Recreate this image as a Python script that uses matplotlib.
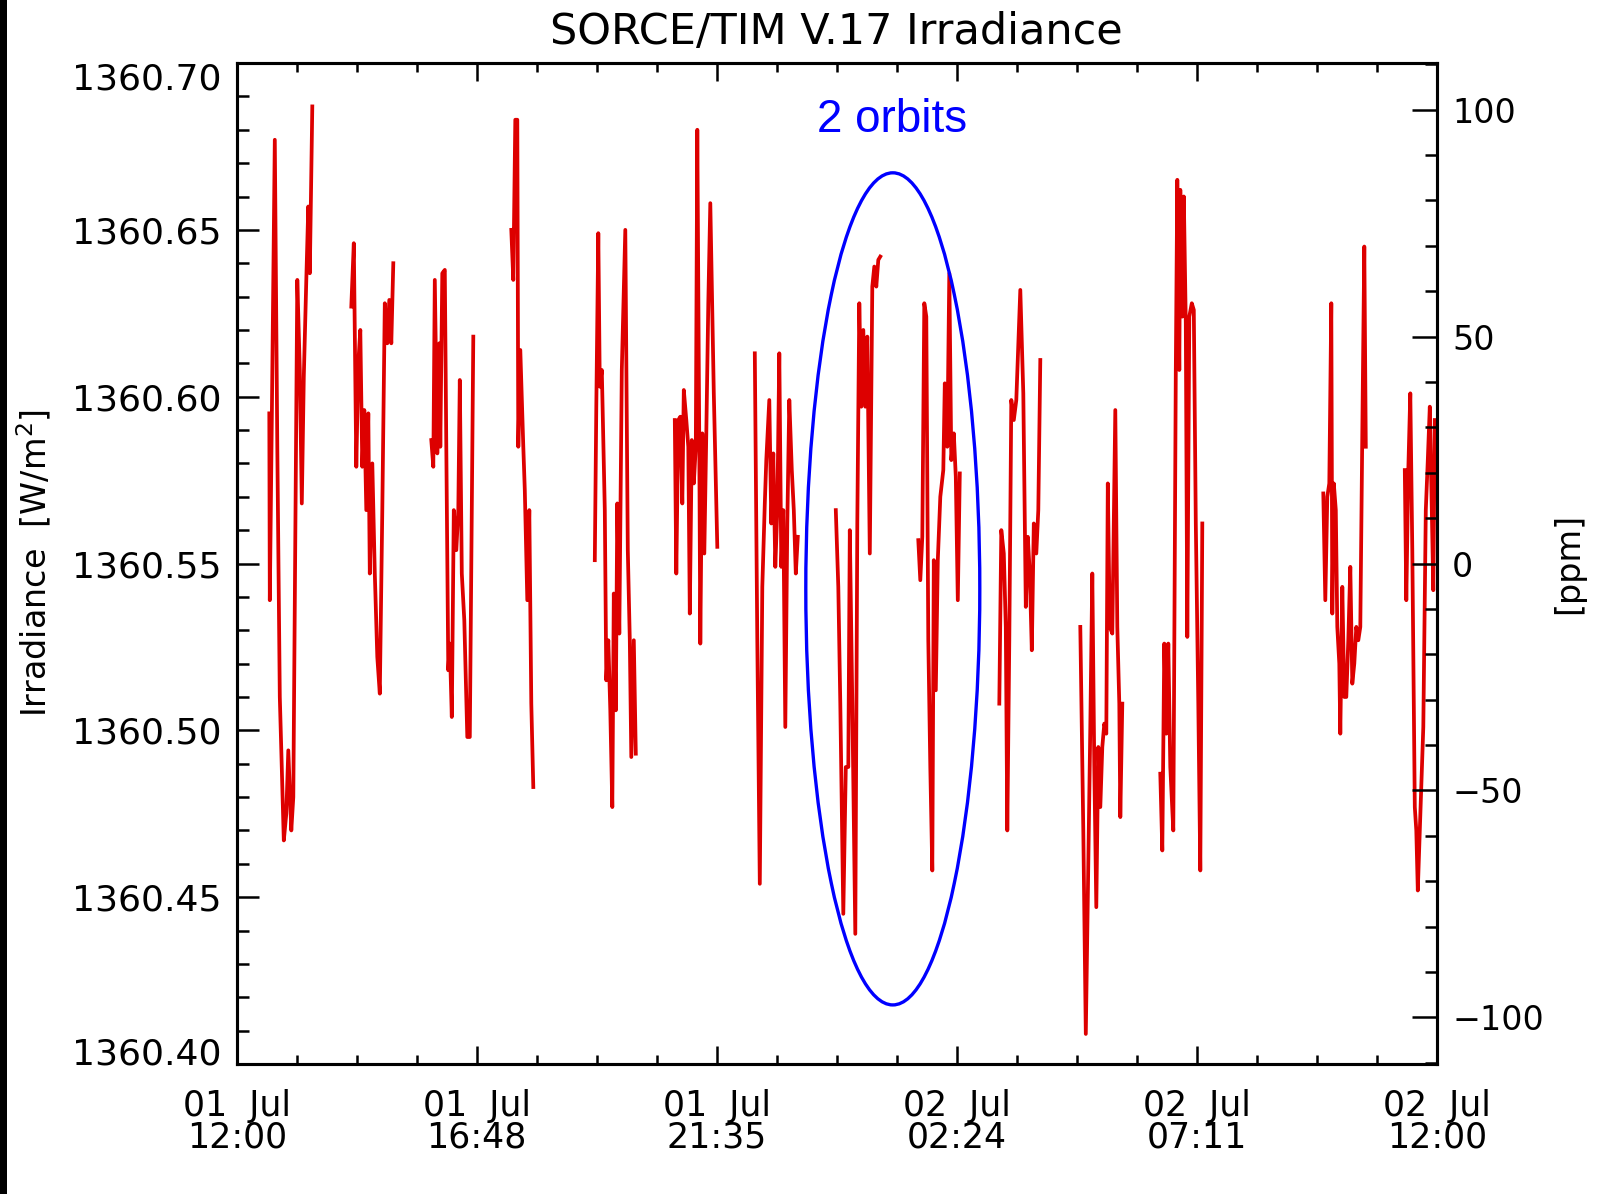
import numpy as np
import matplotlib
matplotlib.use('Agg')
import matplotlib.pyplot as plt
import matplotlib.transforms as mtransforms
from matplotlib.patches import Ellipse, Rectangle
from matplotlib.ticker import MultipleLocator

# hours after 01 Jul 12:00, one list per orbit of TIM data
orbit_hours = [
  [0.65, 0.66, 0.70, 0.76, 0.81, 0.86, 0.89, 0.94, 0.99, 1.03, 1.09, 1.13, 1.21, 1.26, 1.30, 1.34, 1.39, 1.43, 1.46, 1.51],
  [2.29, 2.34, 2.39, 2.43, 2.47, 2.51, 2.55, 2.59, 2.63, 2.66, 2.71, 2.76, 2.81, 2.86, 2.91, 2.96, 3.01, 3.05, 3.09, 3.13],
  [3.89, 3.93, 3.96, 4.01, 4.05, 4.07, 4.11, 4.16, 4.19, 4.23, 4.26, 4.30, 4.34, 4.39, 4.43, 4.46, 4.50, 4.55, 4.61, 4.66, 4.73],
  [5.49, 5.53, 5.57, 5.61, 5.63, 5.67, 5.73, 5.76, 5.81, 5.85, 5.89, 5.93],
  [7.16, 7.19, 7.23, 7.26, 7.30, 7.36, 7.39, 7.43, 7.47, 7.51, 7.54, 7.58, 7.61, 7.65, 7.70, 7.77, 7.82, 7.86, 7.89, 7.94, 7.98],
  [8.76, 8.79, 8.83, 8.87, 8.91, 8.94, 8.99, 9.03, 9.06, 9.10, 9.14, 9.18, 9.21, 9.25, 9.27, 9.31, 9.35, 9.39, 9.43, 9.47, 9.54, 9.61],
  [10.36, 10.41, 10.46, 10.51, 10.56, 10.59, 10.65, 10.69, 10.73, 10.77, 10.81, 10.85, 10.89, 10.93, 10.97, 11.01, 11.05, 11.10, 11.14, 11.18, 11.22],
  [11.98, 12.03, 12.07, 12.13, 12.18, 12.23, 12.26, 12.31, 12.37, 12.41, 12.45, 12.49, 12.53, 12.57, 12.61, 12.66, 12.71, 12.75, 12.79, 12.83, 12.87],
  [13.63, 13.67, 13.71, 13.75, 13.79, 13.83, 13.87, 13.91, 13.94, 13.98, 14.02, 14.07, 14.13, 14.16, 14.21, 14.25, 14.29, 14.34, 14.38, 14.42, 14.46],
  [15.25, 15.29, 15.34, 15.38, 15.41, 15.45, 15.49, 15.54, 15.59, 15.67, 15.73, 15.78, 15.82, 15.86, 15.90, 15.94, 15.99, 16.03, 16.07],
  [16.87, 16.93, 16.98, 17.03, 17.07, 17.11, 17.15, 17.19, 17.23, 17.27, 17.31, 17.35, 17.39, 17.42, 17.46, 17.51, 17.57, 17.61, 17.65, 17.67, 17.71],
  [18.47, 18.51, 18.55, 18.59, 18.63, 18.67, 18.73, 18.78, 18.81, 18.85, 18.87, 18.91, 18.94, 18.98, 19.01, 19.05, 19.10, 19.14, 19.18, 19.23, 19.27, 19.31],
  [21.73, 21.77, 21.81, 21.85, 21.89, 21.91, 21.94, 21.98, 22.01, 22.05, 22.07, 22.11, 22.15, 22.19, 22.23, 22.27, 22.31, 22.35, 22.39, 22.43, 22.47, 22.51, 22.55, 22.58],
  [23.36, 23.39, 23.43, 23.47, 23.51, 23.56, 23.59, 23.62, 23.66, 23.73, 23.78, 23.82, 23.86, 23.90, 23.93, 23.96],
]

# irradiance [W/m^2], same shape as orbit_hours
orbit_irradiance = [
  [1360.595, 1360.539, 1360.593, 1360.677, 1360.585, 1360.510, 1360.494, 1360.467, 1360.475, 1360.494, 1360.470, 1360.480, 1360.635, 1360.608, 1360.568, 1360.606, 1360.635, 1360.657, 1360.637, 1360.687],
  [1360.627, 1360.646, 1360.579, 1360.610, 1360.620, 1360.579, 1360.596, 1360.566, 1360.595, 1360.547, 1360.580, 1360.547, 1360.522, 1360.511, 1360.566, 1360.628, 1360.616, 1360.629, 1360.616, 1360.640],
  [1360.587, 1360.579, 1360.635, 1360.583, 1360.616, 1360.585, 1360.637, 1360.638, 1360.585, 1360.518, 1360.526, 1360.504, 1360.566, 1360.554, 1360.566, 1360.605, 1360.547, 1360.533, 1360.498, 1360.498, 1360.618],
  [1360.650, 1360.635, 1360.683, 1360.683, 1360.585, 1360.614, 1360.585, 1360.572, 1360.539, 1360.566, 1360.508, 1360.483],
  [1360.551, 1360.597, 1360.649, 1360.603, 1360.608, 1360.566, 1360.515, 1360.527, 1360.506, 1360.477, 1360.541, 1360.506, 1360.568, 1360.529, 1360.608, 1360.650, 1360.554, 1360.527, 1360.492, 1360.527, 1360.493],
  [1360.593, 1360.547, 1360.593, 1360.594, 1360.568, 1360.602, 1360.593, 1360.585, 1360.535, 1360.587, 1360.574, 1360.585, 1360.680, 1360.585, 1360.526, 1360.589, 1360.553, 1360.589, 1360.628, 1360.658, 1360.601, 1360.555],
  [1360.613, 1360.527, 1360.454, 1360.543, 1360.568, 1360.581, 1360.599, 1360.562, 1360.583, 1360.549, 1360.566, 1360.613, 1360.549, 1360.566, 1360.501, 1360.562, 1360.599, 1360.578, 1360.566, 1360.547, 1360.558],
  [1360.566, 1360.543, 1360.508, 1360.445, 1360.489, 1360.489, 1360.560, 1360.508, 1360.439, 1360.562, 1360.628, 1360.597, 1360.620, 1360.597, 1360.618, 1360.553, 1360.633, 1360.639, 1360.633, 1360.641, 1360.642],
  [1360.557, 1360.545, 1360.558, 1360.628, 1360.624, 1360.527, 1360.489, 1360.458, 1360.551, 1360.512, 1360.551, 1360.570, 1360.578, 1360.604, 1360.585, 1360.637, 1360.581, 1360.589, 1360.576, 1360.539, 1360.577],
  [1360.508, 1360.560, 1360.553, 1360.531, 1360.470, 1360.527, 1360.599, 1360.593, 1360.599, 1360.632, 1360.601, 1360.537, 1360.558, 1360.547, 1360.524, 1360.562, 1360.553, 1360.566, 1360.611],
  [1360.531, 1360.470, 1360.409, 1360.460, 1360.501, 1360.547, 1360.489, 1360.447, 1360.495, 1360.477, 1360.495, 1360.502, 1360.499, 1360.574, 1360.531, 1360.529, 1360.596, 1360.531, 1360.508, 1360.474, 1360.508],
  [1360.487, 1360.464, 1360.526, 1360.499, 1360.526, 1360.489, 1360.470, 1360.608, 1360.665, 1360.608, 1360.662, 1360.624, 1360.660, 1360.622, 1360.528, 1360.624, 1360.628, 1360.626, 1360.562, 1360.508, 1360.458, 1360.562],
  [1360.571, 1360.539, 1360.570, 1360.574, 1360.628, 1360.535, 1360.574, 1360.566, 1360.531, 1360.520, 1360.499, 1360.543, 1360.510, 1360.510, 1360.527, 1360.549, 1360.514, 1360.520, 1360.531, 1360.527, 1360.531, 1360.589, 1360.645, 1360.585],
  [1360.578, 1360.539, 1360.578, 1360.601, 1360.554, 1360.477, 1360.470, 1360.452, 1360.470, 1360.501, 1360.566, 1360.581, 1360.597, 1360.566, 1360.542, 1360.593],
]

x_tick_hours = [0.0, 4.8, 9.6, 14.4, 19.2, 24.0]
x_tick_labels = ['01  Jul\n12:00', '01  Jul\n16:48', '01  Jul\n21:35', '02  Jul\n02:24', '02  Jul\n07:11', '02  Jul\n12:00']
y_ticks = [1360.40, 1360.45, 1360.50, 1360.55, 1360.60, 1360.65, 1360.70]
ppm_ticks = [-100, -50, 0, 50, 100]
reference_irradiance = 1360.55

# ellipse around the two marked orbits (data units)
orbit_mark_center = (13.12, 1360.5424)
orbit_mark_size = (3.48, 0.2494)


def to_ppm(value):
  return (value - reference_irradiance) / reference_irradiance * 1e6


def main():
  plt.rcParams['font.family'] = ['DejaVu Sans']
  fig = plt.figure(figsize=(16, 11.94), dpi=100)
  ax = fig.add_axes([0.148, 0.1089, 0.75, 0.8383])

  for hours, irr in zip(orbit_hours, orbit_irradiance):
    ax.plot(hours, irr, color='#dd0000', lw=2.7)

  ax.set_xlim(0, 24)
  ax.set_ylim(1360.40, 1360.70)

  ax.set_xticks(x_tick_hours)
  ax.set_xticklabels(x_tick_labels, fontsize=25, linespacing=0.92)
  ax.xaxis.set_minor_locator(MultipleLocator(1.2))
  ax.set_yticks(y_ticks)
  ax.set_yticklabels(['%.2f' % v for v in y_ticks], fontsize=26)
  ax.yaxis.set_minor_locator(MultipleLocator(0.01))

  ax.tick_params(axis='x', which='both', direction='in', top=True, bottom=True, width=1.8)
  ax.tick_params(axis='x', which='major', length=13, pad=18)
  ax.tick_params(axis='x', which='minor', length=6.5)
  ax.tick_params(axis='y', which='both', direction='in', left=True, right=False, width=1.8)
  ax.tick_params(axis='y', which='major', length=16, pad=11)
  ax.tick_params(axis='y', which='minor', length=8.5)
  for spine in ax.spines.values():
    spine.set_linewidth(2.2)

  # end labels sit inside the axis range, as IDL draws them
  labels = ax.get_yticklabels()
  labels[0].set_transform(labels[0].get_transform() + mtransforms.ScaledTranslation(0, 9 / 72, fig.dpi_scale_trans))
  labels[-1].set_transform(labels[-1].get_transform() + mtransforms.ScaledTranslation(0, -9 / 72, fig.dpi_scale_trans))

  ax.set_ylabel('Irradiance  [W/m$^2$]', fontsize=24)
  ax.yaxis.set_label_coords(-0.1525, 0.5)

  ax2 = ax.twinx()
  ax2.set_ylim(to_ppm(1360.40), to_ppm(1360.70))
  ax2.set_yticks(ppm_ticks)
  ax2.set_yticklabels([str(v).replace('-', '\u2212') for v in ppm_ticks], fontsize=24)
  ax2.yaxis.set_minor_locator(MultipleLocator(10))
  ax2.tick_params(axis='y', which='both', direction='in', width=1.8)
  ax2.tick_params(axis='y', which='major', length=18, pad=11)
  ax2.tick_params(axis='y', which='minor', length=8.5)
  for spine in ax2.spines.values():
    spine.set_linewidth(2.2)
  ax2.set_ylabel('[ppm]', fontsize=24)
  ax2.yaxis.set_label_coords(1.096, 0.5)

  ax.text(0.5, 1.031, 'SORCE/TIM V.17 Irradiance', transform=ax.transAxes,
          ha='center', va='center', fontsize=31)

  ax.add_patch(Ellipse(orbit_mark_center, orbit_mark_size[0], orbit_mark_size[1],
                       fill=False, edgecolor='#0000ff', lw=2.4, zorder=5))
  ax.text(13.1, 1360.683, '2 orbits', color='#0000ff', ha='center', va='center',
          fontsize=33, family=['Liberation Sans', 'DejaVu Sans'])

  fig.patches.append(Rectangle((0, 0), 7 / 1600, 1, transform=fig.transFigure,
                               facecolor='black', edgecolor='none'))

  fig.savefig('out.png', dpi=100)
  return 0


if __name__ == '__main__':
  main()
